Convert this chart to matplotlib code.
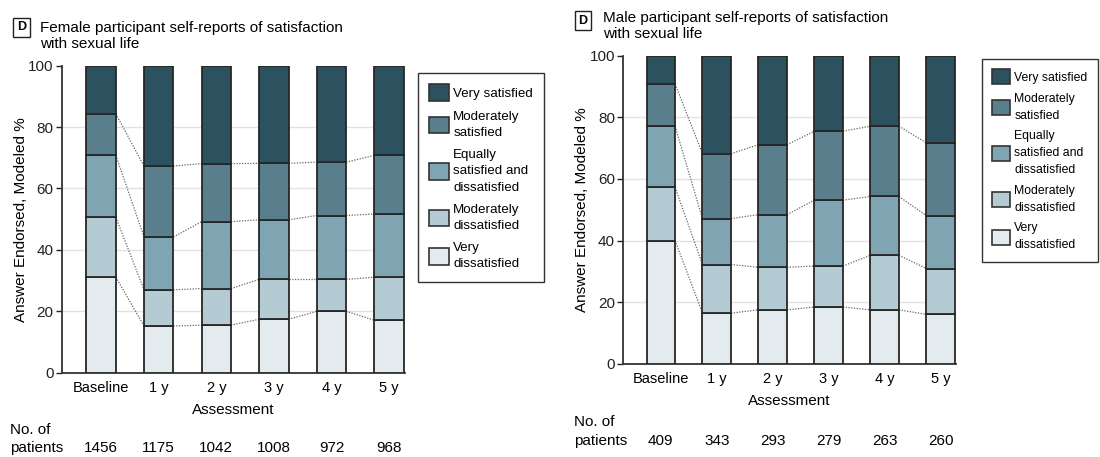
import numpy as np
import matplotlib
matplotlib.use("Agg")
import matplotlib.pyplot as plt
import matplotlib.transforms as mtransforms
from matplotlib.patches import Patch

plt.rcParams['font.family'] = ['Liberation Sans', 'DejaVu Sans']

# data (modeled % per answer)
assessments = ['Baseline', '1 y', '2 y', '3 y', '4 y', '5 y']
answer_labels = ['Very\ndissatisfied', 'Moderately\ndissatisfied',
                 'Equally\nsatisfied and\ndissatisfied', 'Moderately\nsatisfied',
                 'Very satisfied']

female_very_dis = [31.1, 15.2, 15.5, 17.4, 20.0, 17.1]
female_mod_dis = [19.5, 11.8, 11.9, 13.0, 10.4, 14.0]
female_equal = [20.2, 17.2, 21.8, 19.4, 20.8, 20.6]
female_mod_sat = [13.5, 23.1, 18.9, 18.4, 17.4, 19.1]
female_very_sat = [15.7, 32.7, 31.9, 31.8, 31.4, 29.2]
female_n = [1456, 1175, 1042, 1008, 972, 968]

male_very_dis = [40.0, 16.4, 17.5, 18.4, 17.5, 16.0]
male_mod_dis = [17.3, 15.8, 13.8, 13.3, 17.7, 14.9]
male_equal = [19.8, 14.9, 17.1, 21.4, 19.1, 17.2]
male_mod_sat = [13.7, 21.1, 22.7, 22.4, 22.8, 23.6]
male_very_sat = [9.2, 31.8, 28.9, 24.5, 22.9, 28.3]
male_n = [409, 343, 293, 279, 263, 260]

colors = ['#e3ebef', '#b5cbd4', '#7fa4b2', '#5a7f8c', '#2c5260']

W, H = 1100, 457
fig = plt.figure(figsize=(11, 4.57), dpi=100)


def px(x, y):
    # pixel position -> figure fraction
    return x / W, 1 - y / H


def draw_panel(rect, segs, counts, title_pos, title, legend_xy, leg_fs, leg_sp, leg_ls,
               xlim, count_y, xlabel_pad):
    ax = fig.add_axes(rect)
    x = np.arange(len(assessments))
    w = 0.51
    bottom = np.zeros(len(x))
    tops = []
    for vals, c in zip(segs, colors):
        vals = np.array(vals)
        ax.bar(x, vals, w, bottom=bottom, color=c, edgecolor='#262626', linewidth=1.3, zorder=3)
        bottom = bottom + vals
        tops.append(bottom.copy())
    # dotted connectors between bars
    for t in tops[:-1]:
        for i in range(len(x) - 1):
            ax.plot([x[i] + w / 2, x[i + 1] - w / 2], [t[i], t[i + 1]], linestyle=(0, (1, 1.2)),
                    color='#666666', linewidth=0.9, zorder=2)
    for g in [20, 40, 60, 80]:
        ax.axhline(g, color='#e2e2e2', linewidth=1.0, zorder=1)
    ax.set_ylim(0, 100)
    ax.set_xlim(*xlim)
    ax.set_yticks([0, 20, 40, 60, 80, 100])
    ax.set_xticks(x)
    ax.set_xticklabels(assessments, fontsize=10.5)
    ax.tick_params(axis='x', length=0, pad=6)
    ax.tick_params(axis='y', length=4, width=1, labelsize=11, pad=2, colors='#222222')
    for s in ['top', 'right']:
        ax.spines[s].set_visible(False)
    for s in ['left', 'bottom']:
        ax.spines[s].set_linewidth(1.3)
        ax.spines[s].set_color('#333333')
    ax.set_xlabel('Assessment', fontsize=11, labelpad=xlabel_pad)
    ax.set_ylabel('Answer Endorsed, Modeled %', fontsize=11, labelpad=0)

    # patient counts
    trans = mtransforms.blended_transform_factory(ax.transData, fig.transFigure)
    for xi, n in zip(x, counts):
        ax.text(xi, 1 - count_y / H, str(n), transform=trans, ha='center', va='center',
                fontsize=11, clip_on=False)

    # title
    dx, dy, tx, ty = title_pos
    fig.text(*px(dx, dy), 'D', fontsize=9, fontweight='bold', ha='center', va='center',
             bbox=dict(boxstyle='square,pad=0.3', facecolor='white', edgecolor='#222222', linewidth=1))
    fig.text(*px(tx, ty), title, fontsize=11, ha='left', va='center', linespacing=1.1)

    handles = [Patch(facecolor=c, edgecolor='#333333', linewidth=1.2) for c in colors][::-1]
    leg = fig.legend(handles, answer_labels[::-1], loc='upper left', bbox_to_anchor=px(*legend_xy),
                     bbox_transform=fig.transFigure, fontsize=leg_fs, frameon=True, fancybox=False,
                     edgecolor='#333333', framealpha=1, handlelength=1.45, handleheight=1.5,
                     handletextpad=0.35, labelspacing=leg_sp, borderpad=0.85, borderaxespad=0)
    leg.get_frame().set_linewidth(1.0)
    for t in leg.get_texts():
        t.set_linespacing(leg_ls)
    return ax


draw_panel([62 / W, 1 - 372.7 / H, 0.312, (372.7 - 65.7) / H],
           [female_very_dis, female_mod_dis, female_equal, female_mod_sat, female_very_sat],
           female_n, (21.5, 27.5, 40, 36),
           'Female participant self-reports of satisfaction\nwith sexual life',
           (418, 73), 9.6, 0.78, 1.45, (-0.68, 5.28), 448, 6)

draw_panel([623.3 / W, 1 - 363.7 / H, 0.3022, (363.7 - 55.7) / H],
           [male_very_dis, male_mod_dis, male_equal, male_mod_sat, male_very_sat],
           male_n, (583, 20.5, 603, 26),
           'Male participant self-reports of satisfaction\nwith sexual life',
           (982, 59), 8.8, 0.7, 1.55, (-0.67, 5.27), 441, 6)

fig.text(*px(10, 430), 'No. of', fontsize=11, va='center', ha='left')
fig.text(*px(10, 448), 'patients', fontsize=11, va='center', ha='left')
fig.text(*px(574, 422), 'No. of', fontsize=11, va='center', ha='left')
fig.text(*px(574, 441), 'patients', fontsize=11, va='center', ha='left')

fig.savefig('out.png', dpi=100)
